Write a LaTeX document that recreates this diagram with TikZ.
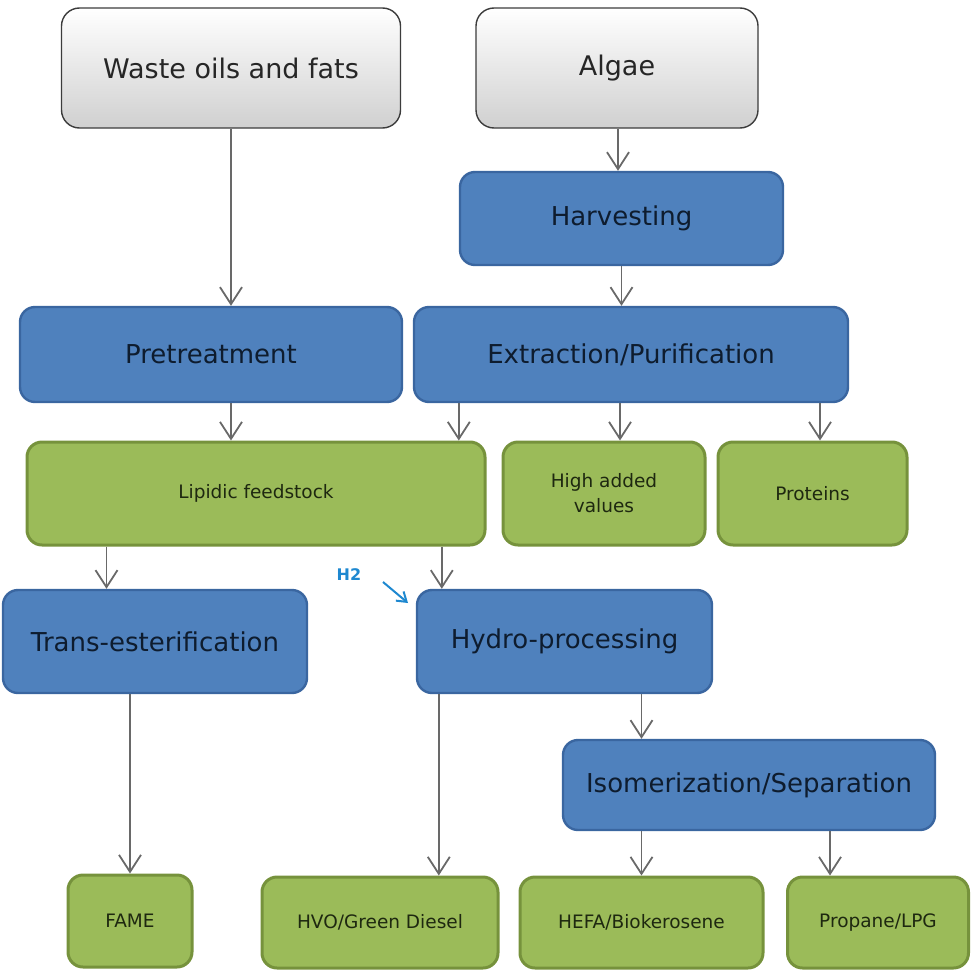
\documentclass[tikz,border=0pt]{standalone}
\usepackage{fontspec}
\setmainfont{DejaVu Sans}
\usepackage{tikz}
\usetikzlibrary{arrows.meta,calc}
\usepackage{xcolor}
\definecolor{feedgray}{RGB}{208,208,208}
\definecolor{feededge}{RGB}{60,60,60}
\definecolor{procblue}{RGB}{79,129,189}
\definecolor{procedge}{RGB}{58,102,160}
\definecolor{proctext}{RGB}{14,28,46}
\definecolor{prodgreen}{RGB}{155,187,89}
\definecolor{prodedge}{RGB}{118,146,60}
\definecolor{prodtext}{RGB}{30,40,16}
\definecolor{arrowgray}{RGB}{105,105,105}
\definecolor{hblue}{RGB}{30,136,208}

\begin{document}
\begin{tikzpicture}[x=1pt,y=-1pt,
  feed/.style={rectangle,rounded corners=18pt,draw=feededge,line width=1.4pt,
    top color=white,bottom color=feedgray,text=black!85,inner sep=0pt,
    font=\fontsize{27}{30}\selectfont},
  proc/.style={rectangle,rounded corners=15pt,draw=procedge,line width=2.4pt,
    fill=procblue,text=proctext,inner sep=0pt,font=\fontsize{26}{30}\selectfont},
  prod/.style={rectangle,rounded corners=15pt,draw=prodedge,line width=3pt,
    fill=prodgreen,text=prodtext,inner sep=0pt,align=center,
    font=\fontsize{18.5}{25}\selectfont},
  flow/.style={draw=arrowgray,line width=1.8pt,-{Straight Barb[length=17pt,width=22pt]}}]
\useasboundingbox (0,0) rectangle (970,972);

% feedstocks
\node[feed,minimum width=339pt,minimum height=120pt] (waste) at (231,68) {Waste oils and fats};
\node[feed,minimum width=282pt,minimum height=120pt] (algae) at (617,68) {Algae};

% processes
\node[proc,minimum width=323pt,minimum height=93pt] (harvest) at (621.5,218.5) {Harvesting};
\node[proc,minimum width=382pt,minimum height=95pt] (pretreat) at (211,354.5) {Pretreatment};
\node[proc,minimum width=434pt,minimum height=95pt] (extract) at (631,354.5) {Extraction/Purification};

% intermediates
\node[prod,minimum width=458pt,minimum height=103pt] (lipid) at (256,493.5) {Lipidic feedstock};
\node[prod,minimum width=202pt,minimum height=103pt] (hav) at (604,493.5) {High added\\values};
\node[prod,minimum width=189pt,minimum height=103pt] (prot) at (812.5,493.5) {Proteins};

% conversion
\node[proc,minimum width=304pt,minimum height=103pt] (trans) at (155,641.5) {Trans-esterification};
\node[proc,minimum width=295pt,minimum height=103pt] (hydro) at (564.5,641.5) {Hydro-processing};
\node[proc,minimum width=372pt,minimum height=90pt] (iso) at (749,785) {Isomerization/Separation};

% fuels
\node[prod,minimum width=124pt,minimum height=92pt] (fame) at (130,921) {FAME};
\node[prod,minimum width=236pt,minimum height=91pt] (hvo) at (380,922.5) {HVO/Green Diesel};
\node[prod,minimum width=243pt,minimum height=91pt] (hefa) at (641.5,922.5) {HEFA/Biokerosene};
\node[prod,minimum width=181pt,minimum height=91pt] (lpg) at (878,922.5) {Propane/LPG};

% hydrogen input
\node[text=hblue,font=\fontsize{16}{18}\selectfont\bfseries] (h2) at (349,575) {H2};
\coordinate (h2a) at (383,582);
\coordinate (h2b) at (408,603);
\draw[draw=hblue,line width=2pt,-{Straight Barb[length=9pt,width=12pt]}] (h2a) -- (h2b);

% arrows
\draw[flow] ([xshift=1pt]algae.south) coordinate (a1) -- (a1 |- harvest.north);
\draw[flow] (harvest) -- (harvest.south |- extract.north);
\draw[flow] (waste) -- (waste.south |- pretreat.north);
\draw[flow] (pretreat.south -| waste.south) -- (lipid.north -| waste.south);
\draw[flow] ([xshift=46pt]extract.south west) coordinate (e1) -- (e1 |- lipid.north);
\draw[flow] ([xshift=-11pt]extract.south) -- ([xshift=16pt]hav.north);
\draw[flow] ([xshift=189pt]extract.south) -- ([xshift=7.5pt]prot.north);
\draw[flow] ([xshift=81pt]lipid.south west) coordinate (l1) -- (l1 |- trans.north);
\draw[flow] ([xshift=26pt]hydro.north west |- lipid.south) -- ([xshift=26pt]hydro.north west);
\draw[flow] (trans.south -| fame.north) -- (fame.north);
\draw[flow] ([xshift=23pt]hydro.south west) coordinate (h1) -- (h1 |- hvo.north);
\draw[flow] (hydro.south -| hefa.north) -- (iso.north -| hefa.north);
\draw[flow] (iso.south -| hefa.north) -- (hefa.north);
\draw[flow] ([xshift=81pt]iso.south) coordinate (i1) -- (i1 |- lpg.north);
\end{tikzpicture}
\end{document}
